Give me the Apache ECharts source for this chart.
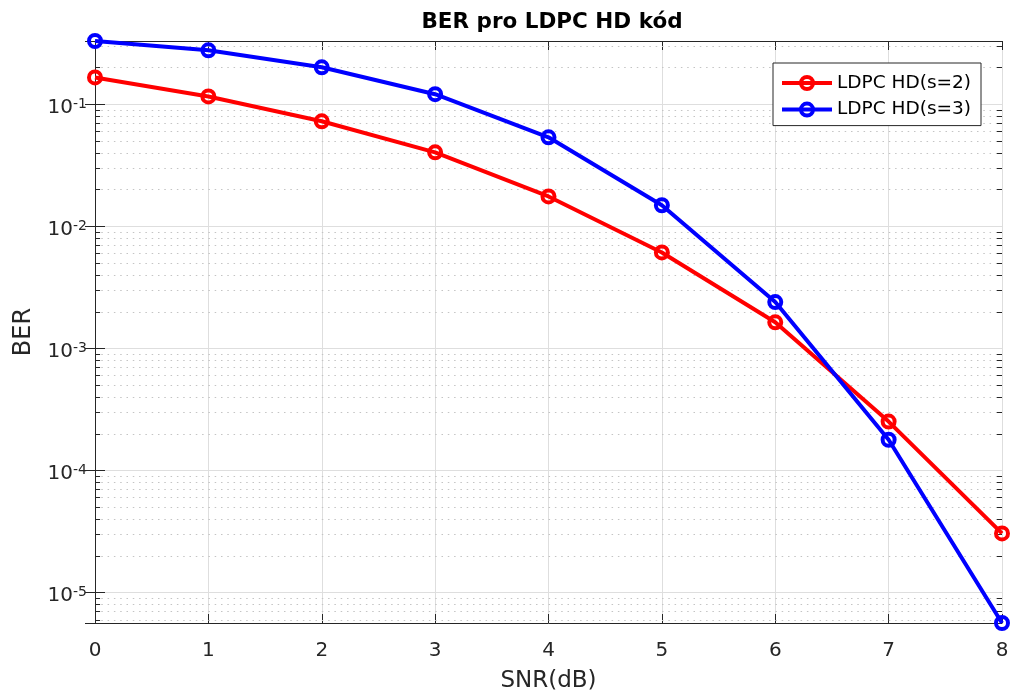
<!DOCTYPE html>
<html>
<head>
<meta charset="utf-8">
<script src="https://cdn.jsdelivr.net/npm/echarts@6/dist/echarts.min.js"></script>
<style>
  html, body { margin: 0; padding: 0; background: #fff; }
  #chart { width: 1012px; height: 698px; }
</style>
</head>
<body>
<div id="chart"></div>
<script>
// SNR values (dB)
const snr = [0, 1, 2, 3, 4, 5, 6, 7, 8]
// BER
const berS2 = [0.166, 0.116, 0.0726, 0.0404, 0.0176, 0.00612, 0.00164, 2.52e-4, 3.06e-5]
const berS3 = [0.33, 0.277, 0.201, 0.121, 0.0537, 0.0149, 0.00240, 1.79e-4, 5.65e-6]
const seriesNames = ['LDPC HD(s=2)', 'LDPC HD(s=3)']

const yMin = 5.65e-6
const yMax = 0.33

// minor decade lines 2..9 x 10^k inside the range
const minorVals = []
for (let k = -6; k <= -1; k++) {
  for (let m = 2; m <= 9; m++) {
    const v = m * Math.pow(10, k)
    if (v > yMin && v < yMax) minorVals.push(v)
  }
}

const textColor = '#262626'
const font = 'DejaVu Sans, sans-serif'

const dotted = { color: '#c4c4c4', type: [1.5, 4.8], width: 1 }
const tickStyle = { color: textColor, type: 'solid', width: 1 }

const guideLines = []
minorVals.forEach((v) => {
  guideLines.push([{ coord: [0, v], lineStyle: dotted }, { coord: [8, v] }])
})
minorVals.forEach((v) => {
  guideLines.push([{ coord: [0, v], lineStyle: tickStyle }, { coord: [0.045, v] }])
  guideLines.push([{ coord: [7.955, v], lineStyle: tickStyle }, { coord: [8, v] }])
})

const chart = echarts.init(document.getElementById('chart'))

const yLabel = (val) => {
  const e = Math.round(Math.log10(val))
  if (Math.abs(Math.log10(val) - e) > 1e-6) return ''
  return '{b|10}{sup|' + e + '}'
}

const lineSeries = (name, values, color, z) => ({
  name: name,
  type: 'line',
  data: snr.map((x, i) => [x, values[i]]),
  symbol: 'circle',
  symbolSize: 12,
  showAllSymbol: true,
  lineStyle: { color: color, width: 4 },
  itemStyle: { color: 'rgba(255,255,255,0)', borderColor: color, borderWidth: 4 },
  z: z,
})

const s2 = lineSeries(seriesNames[0], berS2, '#ff0000', 3)
s2.markLine = {
  silent: true,
  symbol: 'none',
  label: { show: false },
  animation: false,
  data: guideLines,
}
s2.markLine.z = 1

chart.setOption({
  animation: false,
  backgroundColor: '#fff',
  title: {
    text: 'BER pro LDPC HD kód',
    left: 547,
    textAlign: 'center',
    top: 6,
    textStyle: { fontFamily: font, fontSize: 21.5, fontWeight: 'bold', color: '#000' },
  },
  grid: { left: 95, right: 10, top: 41, bottom: 75, containLabel: false },
  legend: {
    data: seriesNames,
    orient: 'vertical',
    left: 773,
    top: 63,
    padding: [10, 10, 6, 7],
    itemGap: 6.6,
    itemWidth: 50,
    itemHeight: 15,
    borderColor: textColor,
    borderWidth: 1,
    backgroundColor: '#fff',
    lineStyle: { width: 4 },
    itemStyle: { borderWidth: 4 },
    textStyle: { fontFamily: font, fontSize: 18.5, lineHeight: 20, color: '#000' },
  },
  xAxis: [
    {
      type: 'value',
      min: 0,
      max: 8,
      interval: 1,
      name: 'SNR(dB)',
      nameLocation: 'middle',
      nameGap: 47,
      nameTextStyle: { fontFamily: font, fontSize: 23, color: textColor },
      axisLine: { lineStyle: { color: textColor, width: 1 } },
      axisTick: { inside: true, length: 9, lineStyle: { color: textColor } },
      axisLabel: { fontFamily: font, fontSize: 20, color: textColor, margin: 18 },
      splitLine: { show: true, lineStyle: { color: '#dedede', width: 1 } },
    },
    {
      type: 'value',
      position: 'top',
      min: 0,
      max: 8,
      interval: 1,
      axisLine: { lineStyle: { color: textColor, width: 1 } },
      axisTick: { inside: true, length: 9, lineStyle: { color: textColor } },
      axisLabel: { show: false },
      splitLine: { show: false },
    },
  ],
  yAxis: [
    {
      type: 'log',
      logBase: 10,
      min: yMin,
      max: yMax,
      name: 'BER',
      nameLocation: 'middle',
      nameGap: 59,
      nameTextStyle: { fontFamily: font, fontSize: 24, color: textColor },
      axisLine: { show: true, lineStyle: { color: textColor, width: 1 } },
      axisTick: { inside: true, length: 10, lineStyle: { color: textColor } },
      axisLabel: {
        color: textColor,
        margin: 8,
        padding: [6, 0, 0, 0],
        formatter: yLabel,
        rich: {
          b: { fontFamily: font, fontSize: 20, lineHeight: 20, color: textColor, padding: [8, 0, 0, 0], verticalAlign: 'bottom' },
          sup: { fontFamily: font, fontSize: 14, lineHeight: 14, color: textColor, verticalAlign: 'top' },
        },
      },
      splitLine: { show: true, lineStyle: { color: '#dedede', width: 1 } },
    },
    {
      type: 'log',
      logBase: 10,
      position: 'right',
      min: yMin,
      max: yMax,
      axisLine: { show: true, lineStyle: { color: textColor, width: 1 } },
      axisTick: { inside: true, length: 10, lineStyle: { color: textColor } },
      axisLabel: { show: false },
      splitLine: { show: false },
    },
  ],
  series: [s2, lineSeries(seriesNames[1], berS3, '#0000ff', 4)],
})
</script>
</body>
</html>
